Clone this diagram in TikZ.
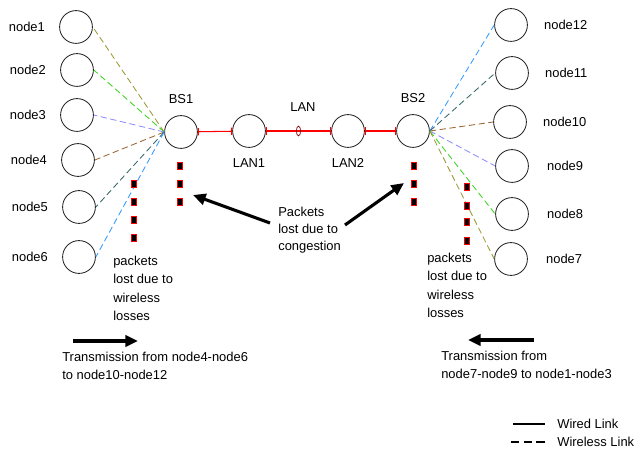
\documentclass[tikz,border=0pt]{standalone}
\usepackage{fontspec}
\setmainfont{Liberation Sans}
\usetikzlibrary{positioning,arrows.meta,shapes.geometric}
\definecolor{wolive}{RGB}{153,153,51}
\definecolor{wgreen}{RGB}{60,210,30}
\definecolor{wlav}{RGB}{140,140,255}
\definecolor{wbrown}{RGB}{153,102,51}
\definecolor{wteal}{RGB}{51,102,102}
\definecolor{wblue}{RGB}{51,153,255}

\begin{document}
\begin{tikzpicture}[x=0.025cm, y=-0.025cm,
  host/.style={circle, draw=black!85, line width=0.6pt, minimum size=0.82cm, inner sep=0pt},
  txt/.style={font=\fontsize{9.2}{13}\selectfont, inner sep=0pt},
  blk/.style={txt, align=left, anchor=north west},
  drop/.style={draw=red, fill=black, line width=0.7pt, minimum width=0.11cm,
               minimum height=0.17cm, inner sep=0pt},
  wired/.style={draw=red, line width=0.75pt, {Bar[width=5pt,red]}-{Bar[width=5pt,red]}},
  wless/.style={dash pattern=on 4.5pt off 2.5pt, line width=0.6pt},
  bigarr/.style={-{Triangle[length=9pt,width=8pt]}, line width=2.2pt},
]
  \useasboundingbox (0,0) rectangle (636,451);

  % wireless hosts, left side
  \node[host] (n1) at (76,27)  {};
  \node[host] (n2) at (77,70)  {};
  \node[host] (n3) at (77,115) {};
  \node[host] (n4) at (78,160) {};
  \node[host] (n5) at (79,207) {};
  \node[host] (n6) at (79,257) {};
  \node[txt, left=0.35cm of n1] (l1) {node1};
  \node[txt, left=0.35cm of n2] (l2) {node2};
  \node[txt, left=0.35cm of n3] (l3) {node3};
  \node[txt, left=0.35cm of n4] (l4) {node4};
  \node[txt, left=0.35cm of n5] (l5) {node5};
  \node[txt, left=0.35cm of n6] (l6) {node6};

  % wireless hosts, right side
  \node[host] (n12) at (511,25)  {};
  \node[host] (n11) at (512,73)  {};
  \node[host] (n10) at (510,122) {};
  \node[host] (n9)  at (512,166) {};
  \node[host] (n8)  at (512,214) {};
  \node[host] (n7)  at (511,259) {};
  \node[txt, right=0.4cm of n12] (l12) {node12};
  \node[txt, right=0.4cm of n11] (l11) {node11};
  \node[txt, right=0.4cm of n10] (l10) {node10};
  \node[txt, right=0.45cm of n9] (l9)  {node9};
  \node[txt, right=0.45cm of n8] (l8)  {node8};
  \node[txt, right=0.45cm of n7] (l7)  {node7};

  % base stations and LAN
  \node[host] (BS1)  at (181,132) {};
  \node[host] (LAN1) at (249,131) {};
  \node[host] (LAN2) at (348,131) {};
  \node[host] (BS2)  at (413,131) {};
  \node[txt, above=0.27cm of BS1]  (lbs1)  {BS1};
  \node[txt, above=0.27cm of BS2]  (lbs2)  {BS2};
  \node[txt, below=0.27cm of LAN1] (llan1) {LAN1};
  \node[txt, below=0.27cm of LAN2] (llan2) {LAN2};
  \node[txt] (llan) at (303,107) {LAN};

  \draw[wired] (BS1) -- (LAN1);
  \draw[wired] (LAN1) -- node[ellipse, draw=red!50!black, line width=0.5pt, inner sep=0pt,
                              minimum width=3pt, minimum height=7pt] (lanmark) {} (LAN2);
  \draw[wired] (LAN2) -- (BS2);

  % wireless links
  \draw[wless, wolive]  (BS1.west) -- (n1.east);
  \draw[wless, wgreen]  (BS1.west) -- (n2.east);
  \draw[wless, wlav]    (BS1.west) -- (n3.east);
  \draw[wless, wbrown]  (BS1.west) -- (n4.east);
  \draw[wless, wteal]   (BS1.west) -- (n5.east);
  \draw[wless, wblue]   (BS1.west) -- (n6.east);
  \draw[wless, wblue]   (BS2.east) -- (n12.west);
  \draw[wless, wteal]   (BS2.east) -- (n11.west);
  \draw[wless, wbrown]  (BS2.east) -- (n10.west);
  \draw[wless, wlav]    (BS2.east) -- (n9.west);
  \draw[wless, wgreen]  (BS2.east) -- (n8.west);
  \draw[wless, wolive]  (BS2.east) -- (n7.west);

  % dropped packets
  \node[drop] (d1) at (180,166) {};
  \node[drop] (d2) at (180,184) {};
  \node[drop] (d3) at (180,202) {};
  \node[drop] (d4) at (414,166) {};
  \node[drop] (d5) at (414,184) {};
  \node[drop] (d6) at (414,202) {};
  \node[drop] (w1) at (134,184) {};
  \node[drop] (w2) at (134,202) {};
  \node[drop] (w3) at (134,220) {};
  \node[drop] (w4) at (134,238) {};
  \node[drop] (w5) at (467,187) {};
  \node[drop] (w6) at (467,206) {};
  \node[drop] (w7) at (467,222) {};
  \node[drop] (w8) at (467,241) {};

  \node[blk] (wlossL) at (113,256) {packets\\lost due to\\wireless\\losses};
  \node[blk] (wlossR) at (427,253) {packets\\lost due to\\wireless\\losses};
  \node[blk, font=\fontsize{9.2}{12}\selectfont] (cong) at (278,207)
       {Packets\\lost due to\\congestion};

  \coordinate (c1) at (270,223);
  \coordinate (c2) at (193,195);
  \coordinate (c3) at (345,225);
  \coordinate (c4) at (404,183);
  \draw[bigarr] (c1) -- (c2);
  \draw[bigarr] (c3) -- (c4);

  % direction of transmission
  \coordinate (t1) at (73,341);
  \coordinate (t2) at (138,341);
  \coordinate (t3) at (534,340);
  \coordinate (t4) at (468,340);
  \draw[bigarr] (t1) -- (t2);
  \draw[bigarr] (t3) -- (t4);
  \node[blk] (trL) at (62,352)  {Transmission from node4-node6\\to node10-node12};
  \node[blk] (trR) at (441,351) {Transmission from\\node7-node9 to node1-node3};

  % legend
  \coordinate (g1) at (513,424);
  \coordinate (g2) at (545,424);
  \coordinate (g3) at (511,442);
  \coordinate (g4) at (547,442);
  \draw[line width=1.2pt] (g1) -- (g2);
  \draw[line width=1.2pt, dash pattern=on 6pt off 3pt] (g3) -- (g4);
  \node[txt, anchor=west] (lg1) at (557,424) {Wired Link};
  \node[txt, anchor=west] (lg2) at (557,442) {Wireless Link};
\end{tikzpicture}
\end{document}
